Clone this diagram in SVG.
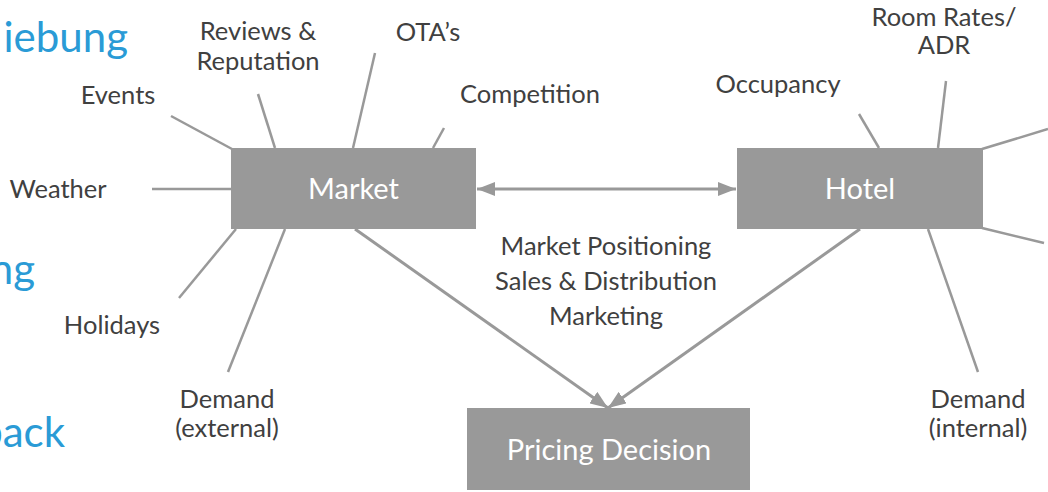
<svg xmlns="http://www.w3.org/2000/svg" width="1048" height="492" viewBox="0 0 1048 492">
<defs>
<style>
.box{fill:#999999;}
.bl{fill:#ffffff;font-family:Lato,"Open Sans",sans-serif;font-size:29px;text-anchor:middle;}
.lb{fill:#404040;font-family:Lato,"Open Sans",sans-serif;font-size:25.5px;text-anchor:middle;}
.blue{fill:#2a9bd6;font-family:Lato,"Open Sans",sans-serif;font-size:42px;text-anchor:end;}
.sp{stroke:#999999;stroke-width:2.5;fill:none;}
.ar{stroke:#999999;stroke-width:3;fill:none;}
</style>
<marker id="ah" markerUnits="userSpaceOnUse" markerWidth="20" markerHeight="14" refX="18" refY="7" orient="auto-start-reverse" viewBox="0 0 20 14">
<path d="M0,0 L18,7 L0,14 Z" fill="#999999"/>
</marker>
</defs>
<rect width="1048" height="492" fill="#ffffff"/>
<g id="side-text">
<text class="blue" x="128" y="52">iebung</text>
<text class="blue" x="35" y="284">ng</text>
<text class="blue" x="65" y="447">back</text>
</g>
<g id="connectors">
<line class="sp" x1="171" y1="116" x2="232" y2="149"/>
<line class="sp" x1="258" y1="94" x2="275" y2="148"/>
<line class="sp" x1="375" y1="53" x2="353" y2="148"/>
<line class="sp" x1="444" y1="128" x2="433" y2="148"/>
<line class="sp" x1="152" y1="189" x2="231" y2="189"/>
<line class="sp" x1="179" y1="298" x2="236" y2="229"/>
<line class="sp" x1="228" y1="372" x2="285" y2="229"/>
<line class="sp" x1="859" y1="114" x2="879" y2="148"/>
<line class="sp" x1="946" y1="81" x2="938" y2="148"/>
<line class="sp" x1="982" y1="149" x2="1048" y2="129"/>
<line class="sp" x1="982" y1="228" x2="1044" y2="243"/>
<line class="sp" x1="928" y1="229" x2="978" y2="372"/>
<line class="ar" x1="477" y1="189" x2="736" y2="189" marker-start="url(#ah)" marker-end="url(#ah)"/>
<line class="ar" x1="355" y1="229" x2="608" y2="408" marker-end="url(#ah)"/>
<line class="ar" x1="860" y1="229" x2="608" y2="408" marker-end="url(#ah)"/>
</g>
<g id="market">
<rect class="box" x="231" y="148" width="245" height="81"/>
<text class="bl" x="353.5" y="199">Market</text>
</g>
<g id="hotel">
<rect class="box" x="737" y="148" width="246" height="81"/>
<text class="bl" x="860" y="199">Hotel</text>
</g>
<g id="pricing">
<rect class="box" x="467" y="408" width="283" height="82"/>
<text class="bl" x="609" y="460">Pricing Decision</text>
</g>
<g id="labels">
<text class="lb" x="258" y="40">Reviews &amp;</text>
<text class="lb" x="258" y="70">Reputation</text>
<text class="lb" x="118" y="104">Events</text>
<text class="lb" x="58" y="198">Weather</text>
<text class="lb" x="428" y="41">OTA’s</text>
<text class="lb" x="530" y="103">Competition</text>
<text class="lb" x="778" y="93">Occupancy</text>
<text class="lb" x="944" y="26">Room Rates/</text>
<text class="lb" x="944" y="54">ADR</text>
<text class="lb" x="112" y="334">Holidays</text>
<text class="lb" x="227" y="408">Demand</text>
<text class="lb" x="227" y="437">(external)</text>
<text class="lb" x="978" y="408">Demand</text>
<text class="lb" x="978" y="437">(internal)</text>
<text class="lb" x="606" y="255">Market Positioning</text>
<text class="lb" x="606" y="290">Sales &amp; Distribution</text>
<text class="lb" x="606" y="325">Marketing</text>
</g>
</svg>
